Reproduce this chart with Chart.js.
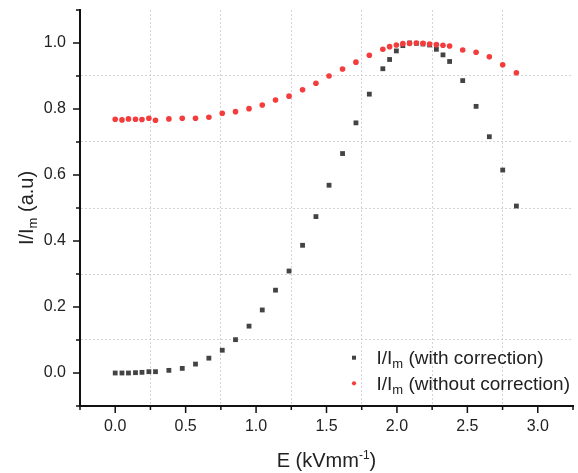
<!DOCTYPE html>
<html>
<head>
<meta charset="utf-8">
<script src="https://cdn.jsdelivr.net/npm/chart.js@4.4.0/dist/chart.umd.min.js"></script>
<style>
  html, body { margin: 0; padding: 0; background: #fff; }
  canvas { display: block; }
</style>
</head>
<body>
<canvas id="chart" width="578" height="473"></canvas>
<script>
// E field (kV/mm), shared by both series
const fieldE = [0, 0.048, 0.094, 0.144, 0.19, 0.239, 0.286, 0.381, 0.476, 0.57, 0.665, 0.76, 0.854,
  0.95, 1.044, 1.138, 1.234, 1.33, 1.425, 1.518, 1.614, 1.709, 1.804, 1.9, 1.948, 1.996, 2.042,
  2.09, 2.138, 2.185, 2.232, 2.28, 2.327, 2.374, 2.467, 2.562, 2.656, 2.751, 2.848];
const withCorrection = [0, 0, 0, 0.001, 0.002, 0.004, 0.004, 0.008, 0.014, 0.027, 0.045, 0.069, 0.101,
  0.142, 0.191, 0.251, 0.309, 0.387, 0.474, 0.569, 0.665, 0.758, 0.845, 0.922, 0.95, 0.976, 0.992,
  1.0, 0.999, 0.997, 0.994, 0.981, 0.964, 0.944, 0.886, 0.808, 0.716, 0.615, 0.506];
const withoutCorrection = [0.769, 0.767, 0.77, 0.769, 0.768, 0.772, 0.766, 0.77, 0.772, 0.772, 0.775, 0.787, 0.792,
  0.801, 0.812, 0.827, 0.839, 0.858, 0.878, 0.9, 0.921, 0.942, 0.963, 0.981, 0.989, 0.994, 0.998,
  0.999, 1.0, 0.999, 0.997, 0.995, 0.993, 0.991, 0.979, 0.972, 0.958, 0.934, 0.91];
const xTickLabels = ['0.0', '0.5', '1.0', '1.5', '2.0', '2.5', '3.0'];
const yTickLabels = ['0.0', '0.2', '0.4', '0.6', '0.8', '1.0'];

const FONT = '"Liberation Sans", Arial, sans-serif';
const BLACK = '#434343';
const RED = '#f43c3c';
const GRID = '#d4d4d4';

function richText(ctx, parts, x, y, align) {
  const widths = parts.map(p => { ctx.font = p.s + 'px ' + FONT; return ctx.measureText(p.t).width; });
  const total = widths.reduce((a, b) => a + b, 0);
  let cx = align === 'center' ? x - total / 2 : x;
  parts.forEach((p, i) => {
    ctx.font = p.s + 'px ' + FONT;
    ctx.fillText(p.t, cx, y + (p.dy || 0));
    cx += widths[i];
  });
}

const decor = {
  id: 'decor',
  afterDraw(chart) {
    const { ctx, chartArea: a, scales: { x, y } } = chart;
    ctx.save();
    // tick marks, long on labelled values
    ctx.strokeStyle = '#111';
    ctx.lineWidth = 1.5;
    ctx.beginPath();
    x.ticks.forEach(t => {
      const len = xTickLabels.includes(t.value.toFixed(1)) ? 7 : 4;
      const px = x.getPixelForValue(t.value);
      ctx.moveTo(px, a.bottom);
      ctx.lineTo(px, a.bottom + len);
    });
    y.ticks.forEach(t => {
      const len = yTickLabels.includes(t.value.toFixed(1)) ? 7 : 4;
      const py = y.getPixelForValue(t.value);
      ctx.moveTo(a.left, py);
      ctx.lineTo(a.left - len, py);
    });
    ctx.stroke();

    // axis titles
    ctx.fillStyle = '#222';
    ctx.textAlign = 'left';
    ctx.textBaseline = 'alphabetic';
    richText(ctx, [{ t: 'E (kVmm', s: 20 }, { t: '-1', s: 12, dy: -8 }, { t: ')', s: 20 }],
      (a.left + a.right) / 2, a.bottom + 60.5, 'center');
    ctx.save();
    ctx.translate(a.left - 47, (a.top + a.bottom) / 2);
    ctx.rotate(-Math.PI / 2);
    richText(ctx, [{ t: 'I/I', s: 20 }, { t: 'm', s: 13, dy: 4 }, { t: ' (a.u)', s: 20 }], 0, 0, 'center');
    ctx.restore();

    // legend
    const mx = a.right - 219;
    const tx = a.right - 196.5;
    ctx.fillStyle = BLACK;
    ctx.fillRect(mx - 2, a.bottom - 50.3, 4, 4);
    ctx.fillStyle = RED;
    ctx.beginPath();
    ctx.arc(mx, a.bottom - 22.7, 2.1, 0, Math.PI * 2);
    ctx.fill();
    ctx.fillStyle = '#222';
    richText(ctx, [{ t: 'I/I', s: 19 }, { t: 'm', s: 13, dy: 4 }, { t: ' (with correction)', s: 19 }], tx, a.bottom - 41.7);
    richText(ctx, [{ t: 'I/I', s: 19 }, { t: 'm', s: 13, dy: 4 }, { t: ' (without correction)', s: 19 }], tx, a.bottom - 16);
    ctx.restore();
  }
};

const toPoints = vals => fieldE.map((e, i) => ({ x: e, y: vals[i] }));

new Chart(document.getElementById('chart'), {
  type: 'scatter',
  data: {
    datasets: [
      {
        label: 'I/Im (with correction)',
        data: toPoints(withCorrection),
        pointStyle: 'rect',
        pointRadius: 3.4,
        backgroundColor: BLACK,
        borderColor: BLACK,
        borderWidth: 0,
        order: 1
      },
      {
        label: 'I/Im (without correction)',
        data: toPoints(withoutCorrection),
        pointStyle: 'circle',
        pointRadius: 2.8,
        backgroundColor: RED,
        borderColor: RED,
        borderWidth: 0,
        order: 0
      }
    ]
  },
  options: {
    responsive: false,
    animation: false,
    layout: { padding: { top: 10, right: 5, left: 0, bottom: 0 } },
    plugins: { legend: { display: false }, tooltip: { enabled: false } },
    scales: {
      x: {
        type: 'linear',
        min: -0.25,
        max: 3.25,
        afterFit: s => { s.height = 67; s.paddingLeft = 0; s.paddingRight = 0; },
        ticks: {
          stepSize: 0.25,
          autoSkip: false,
          maxRotation: 0,
          padding: 4,
          color: '#222',
          font: { family: FONT, size: 16 },
          callback: v => xTickLabels.includes(v.toFixed(1)) ? v.toFixed(1) : ''
        },
        grid: {
          color: c => {
            const k = Math.round(c.tick.value * 4);
            return (k % 2 !== 0 && k > -1 && k < 13) ? GRID : 'rgba(0,0,0,0)';
          },
          lineWidth: 1,
          tickLength: 7,
          tickColor: 'rgba(0,0,0,0)'
        },
        border: { display: true, color: '#111', width: 2, dash: [2, 2] }
      },
      y: {
        type: 'linear',
        min: -0.1,
        max: 1.1,
        afterFit: s => { s.width = 80; s.paddingTop = 0; s.paddingBottom = 0; },
        ticks: {
          stepSize: 0.1,
          autoSkip: false,
          padding: 7,
          color: '#222',
          font: { family: FONT, size: 16 },
          callback: v => yTickLabels.includes(v.toFixed(1)) ? v.toFixed(1) : ''
        },
        grid: {
          color: c => {
            const k = Math.round(c.tick.value * 10);
            return (k % 2 !== 0 && k > -1 && k < 11) ? GRID : 'rgba(0,0,0,0)';
          },
          lineWidth: 1,
          tickLength: 7,
          tickColor: 'rgba(0,0,0,0)'
        },
        border: { display: true, color: '#111', width: 2, dash: [2, 2] }
      }
    }
  },
  plugins: [decor]
});
</script>
</body>
</html>
